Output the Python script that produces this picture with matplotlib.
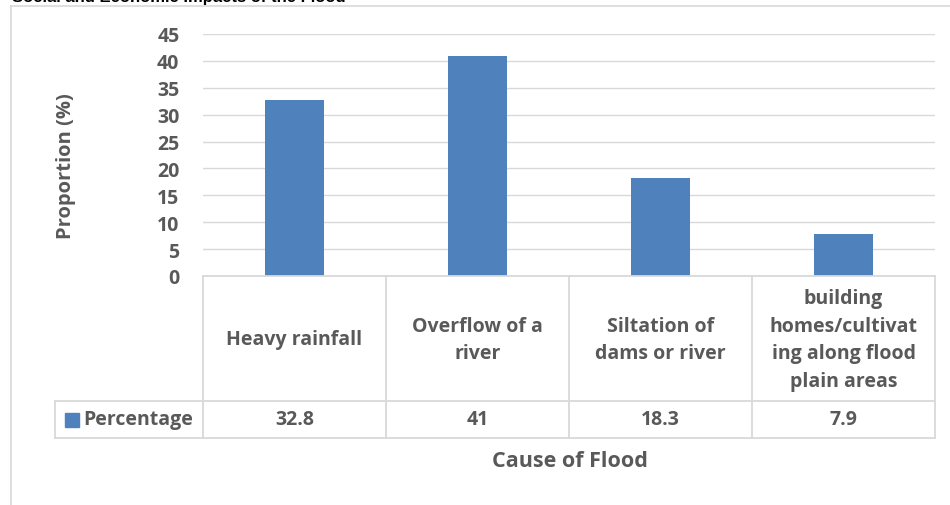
import matplotlib

matplotlib.use("Agg")

import matplotlib.pyplot as plt
from matplotlib.lines import Line2D
from matplotlib.patches import Rectangle
from matplotlib.transforms import blended_transform_factory

categories = [
    "Heavy rainfall",
    "Overflow of a\nriver",
    "Siltation of\ndams or river",
    "building\nhomes/cultivat\ning along flood\nplain areas",
]
percentages = [32.8, 41, 18.3, 7.9]
value_labels = ["32.8", "41", "18.3", "7.9"]
series_name = "Percentage"
y_ticks = [0, 5, 10, 15, 20, 25, 30, 35, 40, 45]

BAR = "#4F81BD"
TEXT = "#595959"
GRID = "#D9D9D9"
FONT = "Open Sans"
FS = 14

W, H = 950, 506


def fy(py):
    return 1 - py / H


def fx(px):
    return px / W


fig = plt.figure(figsize=(W / 100, H / 100), dpi=100)
fig.patch.set_facecolor("white")

# outer chart frame (clipped by the figure on right/bottom)
fig.add_artist(Line2D([fx(11), fx(11)], [fy(7), fy(520)], color=GRID, lw=1.2))
fig.add_artist(Line2D([fx(11), fx(960)], [fy(7), fy(7)], color=GRID, lw=1.2))

# partly cut-off heading above the chart
fig.text(fx(12), fy(2), "Social and Economic Impacts of the Flood",
         fontsize=12, fontweight="bold", family="Liberation Sans",
         color="black", va="baseline", ha="left")

left, right, top, bottom = 203, 935, 35, 277
ax = fig.add_axes([fx(left), fy(bottom), fx(right) - fx(left), fy(top) - fy(bottom)])
x = list(range(len(categories)))
ax.bar(x, percentages, width=0.32, color=BAR, zorder=3)
ax.set_xlim(-0.5, len(categories) - 0.5)
ax.set_ylim(0, 45)
ax.set_yticks(y_ticks)
ax.set_yticklabels([str(t) for t in y_ticks], fontsize=FS, fontweight="bold",
                   color=TEXT, family=FONT)
ax.tick_params(axis="y", length=0, pad=17)
ax.tick_params(axis="x", length=0, labelbottom=False)
ax.yaxis.grid(True, color=GRID, lw=1, zorder=0)
for s in ax.spines.values():
    s.set_visible(False)
ax.set_ylabel("Proportion (%)", fontsize=14.5, fontweight="bold", color=TEXT,
              family=FONT)
ax.yaxis.set_label_coords((76 - left) / (right - left), 0.46)

# data table below the plot
tr = blended_transform_factory(ax.transData, fig.transFigure)
row1_top, row1_bot, row2_bot = 277, 402, 439
lc = dict(color=GRID, lw=1.3, clip_on=False)
fig.add_artist(Line2D([fx(left), fx(right)], [fy(row1_top)] * 2, **lc))
fig.add_artist(Line2D([fx(55), fx(right)], [fy(row1_bot)] * 2, **lc))
fig.add_artist(Line2D([fx(55), fx(right)], [fy(row2_bot)] * 2, **lc))
fig.add_artist(Line2D([fx(55), fx(55)], [fy(row1_bot), fy(row2_bot)], **lc))
for b in [i - 0.5 for i in range(len(categories) + 1)]:
    ax.add_line(Line2D([b, b], [fy(row1_top), fy(row2_bot)], transform=tr, **lc))

mid1 = fy((row1_top + row1_bot) / 2 + 1)
mid2 = fy((row1_bot + row2_bot) / 2)
for i, (cat, val) in enumerate(zip(categories, value_labels)):
    ax.text(i, mid1, cat, transform=tr, ha="center", va="center",
            fontsize=FS, fontweight="bold", color=TEXT, family=FONT,
            linespacing=1.53)
    ax.text(i, mid2, val, transform=tr, ha="center", va="center",
            fontsize=FS, fontweight="bold", color=TEXT, family=FONT)

fig.add_artist(Rectangle((fx(65), fy(428)), fx(14), fy(414) - fy(428),
                         color=BAR))
fig.text(fx(83), mid2, series_name, ha="left", va="center", fontsize=FS,
         fontweight="bold", color=TEXT, family=FONT)

fig.text(fx(570), fy(462), "Cause of Flood", ha="center", va="center",
         fontsize=15.5, fontweight="bold", color=TEXT, family=FONT)

fig.savefig("out.png", dpi=100)
